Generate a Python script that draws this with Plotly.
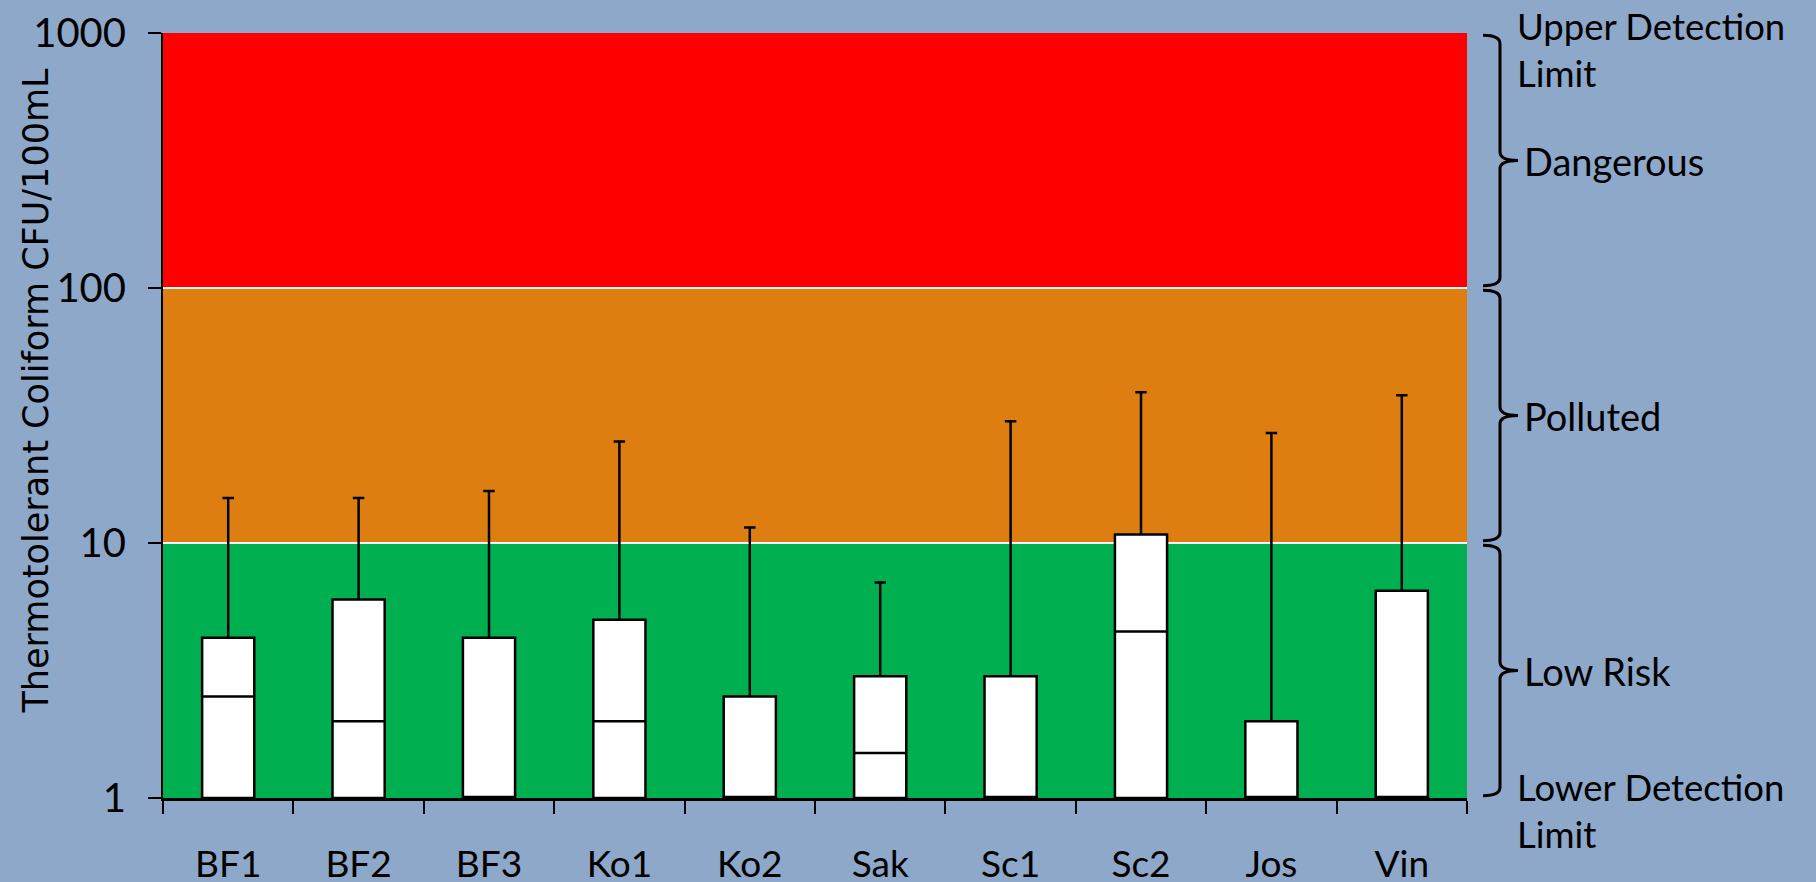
import math
import plotly.graph_objects as go

# ---- data ----
sites = ["BF1", "BF2", "BF3", "Ko1", "Ko2", "Sak", "Sc1", "Sc2", "Jos", "Vin"]
q1_vals = [1, 1, 1, 1, 1, 1, 1, 1, 1, 1]
median_vals = [2.5, 2.0, 1, 2.0, 1, 1.5, 1, 4.5, 1, 1]
q3_vals = [4.25, 6.0, 4.25, 5.0, 2.5, 3.0, 3.0, 10.8, 2.0, 6.5]
max_vals = [15, 15, 16, 25, 11.5, 7.0, 30, 39, 27, 38]
min_vals = [1, 1, 1, 1, 1, 1, 1, 1, 1, 1]

band_edges = [1, 10, 100, 1000]
band_colors = ["#00B050", "#DF7E10", "#FF0000"]
band_labels = ["Low Risk", "Polluted", "Dangerous"]
y_ticks = [1, 10, 100, 1000]
y_title = "Thermotolerant Coliform CFU/100mL"

BG = "#8EA8C9"
TICKFONT = "Lato"

fig = go.Figure()

fig.add_trace(go.Box(
    x=sites,
    q1=q1_vals,
    median=median_vals,
    q3=q3_vals,
    lowerfence=min_vals,
    upperfence=max_vals,
    boxpoints=False,
    fillcolor="white",
    line=dict(color="black", width=2.5),
    width=0.4,
    whiskerwidth=0.22,
    showlegend=False,
    hoverinfo="skip",
))

# colored risk bands (data coordinates)
shapes = []
for lo, hi, col in zip(band_edges[:-1], band_edges[1:], band_colors):
    shapes.append(dict(type="rect", xref="paper", yref="y", x0=0, x1=1, y0=lo, y1=hi,
                       fillcolor=col, line=dict(width=0), layer="below"))

ymin, ymax = math.log10(band_edges[0]), math.log10(band_edges[-1])


def frac(v):
    return (math.log10(v) - ymin) / (ymax - ymin)


# curly braces on the right, in paper coordinates
xl, xv, xt = 1.0123, 1.0253, 1.0391
rr = 0.011
gap = 0.003
for lo, hi in zip(band_edges[:-1], band_edges[1:]):
    yb = frac(lo) + gap
    yt = frac(hi) - gap
    ym = (frac(lo) + frac(hi)) / 2
    path = (f"M {xl},{yt} Q {xv},{yt} {xv},{yt - rr} L {xv},{ym + rr} "
            f"Q {xv},{ym} {xt},{ym} Q {xv},{ym} {xv},{ym - rr} "
            f"L {xv},{yb + rr} Q {xv},{yb} {xl},{yb}")
    shapes.append(dict(type="path", xref="paper", yref="paper", path=path,
                       line=dict(color="black", width=3)))

annotations = []
for lo, hi, lab in zip(band_edges[:-1], band_edges[1:], band_labels):
    annotations.append(dict(x=1.0418, y=(frac(lo) + frac(hi)) / 2, xref="paper", yref="paper",
                            text=lab, showarrow=False, xanchor="left", yanchor="middle",
                            font=dict(family=TICKFONT, size=38, color="black")))
annotations.append(dict(x=1.0365, y=0.978, xref="paper", yref="paper",
                        text="Upper Detection<br>Limit", showarrow=False, xanchor="left",
                        yanchor="middle", align="left",
                        font=dict(family=TICKFONT, size=36.5, color="black")))
annotations.append(dict(x=1.0365, y=-0.016, xref="paper", yref="paper",
                        text="Lower Detection<br>Limit", showarrow=False, xanchor="left",
                        yanchor="middle", align="left",
                        font=dict(family=TICKFONT, size=36.5, color="black")))
annotations.append(dict(x=-0.097, y=0.532, xref="paper", yref="paper",
                        text=y_title, showarrow=False, textangle=-90,
                        xanchor="center", yanchor="middle",
                        font=dict(family="DejaVu Sans", size=35, color="black")))

fig.update_layout(
    width=1816, height=882,
    margin=dict(l=163, r=349, t=33, b=84, autoexpand=False),
    paper_bgcolor=BG, plot_bgcolor=BG,
    shapes=shapes, annotations=annotations,
    showlegend=False,
)
fig.update_xaxes(
    type="category", range=[-0.5, len(sites) - 0.5], automargin=False,
    tickson="boundaries", ticks="outside", ticklen=13, tickwidth=2, tickcolor="black",
    showline=True, linecolor="black", linewidth=3, showgrid=False,
    tickfont=dict(family=TICKFONT, size=37, color="black"),
    ticklabelstandoff=32,
)
fig.update_yaxes(
    type="log", range=[ymin, ymax], automargin=False,
    tickvals=y_ticks, ticktext=[str(v) for v in y_ticks],
    ticks="outside", ticklen=13, tickwidth=2, tickcolor="black",
    showline=True, linecolor="black", linewidth=2,
    showgrid=True, gridcolor="white", gridwidth=2,
    zeroline=False,
    tickfont=dict(family=TICKFONT, size=40, color="black"),
    ticklabelstandoff=14,
)

fig.write_html("out.html")
